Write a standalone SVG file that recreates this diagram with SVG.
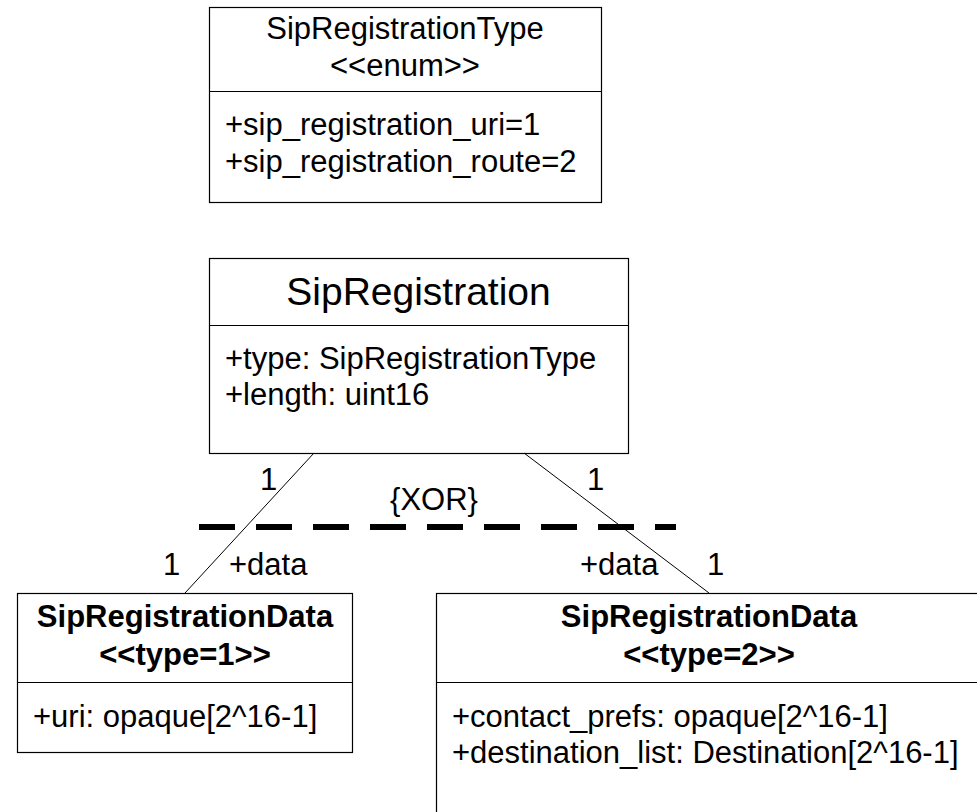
<svg xmlns="http://www.w3.org/2000/svg" width="977" height="812" viewBox="0 0 977 812">
  <style>
    text { font-family: "Liberation Sans", Arial, sans-serif; font-size: 31px; fill: #000; }
    .c { text-anchor: middle; }
    .b { font-weight: bold; }
    .box { fill: #fff; stroke: #000; stroke-width: 1.2; }
    .sep { stroke: #000; stroke-width: 1.2; }
    .assoc { stroke: #000; stroke-width: 1; fill: none; }
    .xor { stroke: #000; stroke-width: 6; stroke-dasharray: 36 21; fill: none; }
  </style>

  <!-- enumeration -->
  <g id="SipRegistrationType">
    <rect class="box" x="209.5" y="7.5" width="392" height="195"/>
    <line class="sep" x1="209.5" y1="91.5" x2="601.5" y2="91.5"/>
    <text class="c" x="405" y="39">SipRegistrationType</text>
    <text class="c" x="405" y="76">&lt;&lt;enum&gt;&gt;</text>
    <text x="225" y="135">+sip_registration_uri=1</text>
    <text x="225" y="172">+sip_registration_route=2</text>
  </g>

  <!-- container class -->
  <g id="SipRegistration">
    <rect class="box" x="209.5" y="258.5" width="419" height="195"/>
    <line class="sep" x1="209.5" y1="325.5" x2="628.5" y2="325.5"/>
    <text class="c" x="418.5" y="305" style="font-size:39px">SipRegistration</text>
    <text x="225" y="369">+type: SipRegistrationType</text>
    <text x="225" y="405">+length: uint16</text>
  </g>

  <!-- variant for type 1 -->
  <g id="SipRegistrationData1">
    <rect class="box" x="17.5" y="593.5" width="335" height="159"/>
    <line class="sep" x1="17.5" y1="682.5" x2="352.5" y2="682.5"/>
    <text class="c b" x="185" y="627">SipRegistrationData</text>
    <text class="c b" x="185" y="665">&lt;&lt;type=1&gt;&gt;</text>
    <text x="33" y="727">+uri: opaque[2^16-1]</text>
  </g>

  <!-- variant for type 2 -->
  <g id="SipRegistrationData2">
    <rect class="box" x="436.5" y="593.5" width="546" height="240"/>
    <line class="sep" x1="436.5" y1="682.5" x2="982.5" y2="682.5"/>
    <text class="c b" x="709" y="627">SipRegistrationData</text>
    <text class="c b" x="709" y="665">&lt;&lt;type=2&gt;&gt;</text>
    <text x="452" y="727">+contact_prefs: opaque[2^16-1]</text>
    <text x="452" y="763">+destination_list: Destination[2^16-1]</text>
  </g>

  <!-- associations and xor constraint -->
  <g id="connectors">
    <line class="assoc" x1="314" y1="453" x2="185" y2="593"/>
    <line class="assoc" x1="524" y1="453" x2="709" y2="593"/>
    <line class="xor" x1="199" y1="527" x2="676" y2="527"/>
    <text x="260" y="490">1</text>
    <text x="163" y="575">1</text>
    <text x="229" y="575">+data</text>
    <text x="587" y="490">1</text>
    <text x="580" y="575">+data</text>
    <text x="707" y="575">1</text>
    <text class="c" x="434" y="510">{XOR}</text>
  </g>
</svg>
